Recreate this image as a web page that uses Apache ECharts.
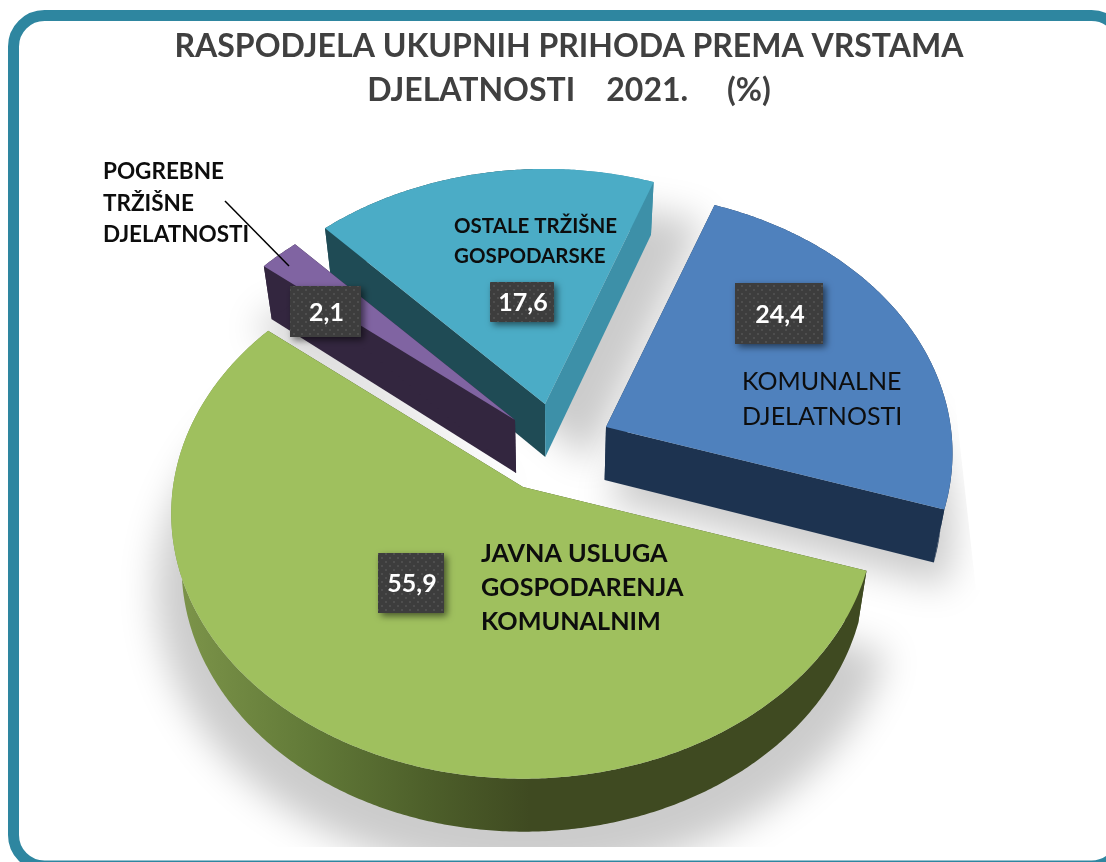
<!DOCTYPE html>
<html>
<head>
<meta charset="utf-8">
<title>Raspodjela ukupnih prihoda</title>
<script src="https://cdn.jsdelivr.net/npm/echarts@6/dist/echarts.min.js"></script>
<style>
html, body { margin: 0; padding: 0; background: #fff; }
#chart { width: 1106px; height: 862px; }
</style>
</head>
<body>
<div id="chart"></div>
<script>
// data, clockwise starting from the blue slice
var categories = ['KOMUNALNE\nDJELATNOSTI', 'JAVNA USLUGA\nGOSPODARENJA\nKOMUNALNIM', 'POGREBNE\nTRŽIŠNE\nDJELATNOSTI', 'OSTALE TRŽIŠNE\nGOSPODARSKE'];
var values = [24.4, 55.9, 2.1, 17.6];
var titleText = 'RASPODJELA UKUPNIH PRIHODA PREMA VRSTAMA\nDJELATNOSTI    2021.     (%)';

// painter's order: back slices first
var drawOrder = [3, 2, 0, 1];

// projection of the tilted pie
var startAngle = -69.84;
var radius = 350;
var tilt = 0.75;
var persp = 0.1;
var depth = 53;
var vanishX = 555;
var shrink = 0.973;

// exploded slice apex and radius factor
var apexX = [606, 523, 515, 545];
var apexY = [427, 487, 420, 404];
var sliceScale = [0.985, 1, 0.985, 0.985];

// shadow offsets and size per slice
var shadowDX = [2, 2, 2, 45];
var shadowDY = [22, 22, 22, 5];
var shadowScale = [1.03, 1.08, 1.08, 1.08];

// colours
var topColors = ['#4f81bd', '#9fc05e', '#8064a2', '#4bacc6'];
var startWall = ['#1d3350', '#3f4a21', '#33263f', '#1f4b55'];
var endWall = ['#1d3350', '#3f4a21', '#33263f', '#3d90a8'];
var rimWall = ['#1d3350', {
	type: 'linear', x: 190, y: 0, x2: 530, y2: 0, global: true,
	colorStops: [
		{ offset: 0, color: '#7a9248' },
		{ offset: 0.35, color: '#627a38' },
		{ offset: 0.7, color: '#4d5f2a' },
		{ offset: 1, color: '#3f4a21' }
	]
}, '#33263f', {
	// left part of the teal rim belongs to the dark wall, right part to the light one
	type: 'linear', x: 300, y: 0, x2: 790, y2: 0, global: true,
	colorStops: [
		{ offset: 0, color: '#1f4b55' },
		{ offset: 0.5, color: '#1f4b55' },
		{ offset: 0.5, color: '#3d90a8' },
		{ offset: 1, color: '#3d90a8' }
	]
}];

// label placement
var boxes = [[735, 283, 88, 61], [378, 553, 66, 60], [290, 286, 71, 51], [490, 282, 64, 40]];
var nameX = [742, 481, 103, 454];
var nameY = [364, 537, 156, 212];
var nameFont = ['25px Lato', 'bold 25.2px Lato', 'bold 22.5px Lato', 'bold 20.5px Lato'];
var nameLine = [35, 34, 31.5, 29.5];

function total() {
	var s = 0;
	for (var i = 0; i < values.length; i++) s += values[i];
	return s;
}

function sliceAngles(idx) {
	var before = 0;
	for (var i = 0; i < idx; i++) before += values[i];
	var a = startAngle + before / total() * 360;
	return [a, a + values[idx] / total() * 360];
}

function project(idx, deg) {
	var t = deg * Math.PI / 180;
	var w = 1 - persp * Math.sin(t);
	var r = radius * sliceScale[idx];
	return [apexX[idx] + r * Math.cos(t) / w, apexY[idx] + r * tilt * Math.sin(t) / w];
}

function lower(p) {
	return [vanishX + (p[0] - vanishX) * shrink, p[1] + depth];
}

function arcPoints(idx) {
	var ang = sliceAngles(idx);
	var n = Math.ceil(ang[1] - ang[0]) * 2;
	var pts = [];
	for (var i = 0; i <= n; i++) {
		pts.push(project(idx, ang[0] + (ang[1] - ang[0]) * i / n));
	}
	return pts;
}

function poly(points, fill) {
	return { type: 'polygon', shape: { points: points }, style: { fill: fill } };
}

// soft shadow under the bottom faces, a bit larger than the slice.
// the shape itself sits off canvas so only its blur shows
function renderShadow(params, api) {
	var idx = api.value(0);
	var k = shadowScale[idx];
	var apex = lower([apexX[idx], apexY[idx]]);
	var pts = arcPoints(idx).map(lower).map(function (p) {
		return [apex[0] + (p[0] - apex[0]) * k, apex[1] + (p[1] - apex[1]) * k];
	});
	return {
		type: 'polygon',
		x: -2000,
		shape: { points: [apex].concat(pts) },
		style: { fill: '#cccccc', shadowColor: '#cccccc', shadowBlur: 36, shadowOffsetX: 2000 + shadowDX[idx], shadowOffsetY: shadowDY[idx] }
	};
}

function renderSlice(params, api) {
	var idx = api.value(0);
	var apex = [apexX[idx], apexY[idx]];
	var arc = arcPoints(idx);
	var first = arc[0];
	var last = arc[arc.length - 1];
	var lowArc = arc.map(lower).reverse();
	return {
		type: 'group',
		children: [
			poly([apex, first, lower(first), lower(apex)], startWall[idx]),
			poly([apex, last, lower(last), lower(apex)], endWall[idx]),
			poly(arc.concat(lowArc), rimWall[idx]),
			poly([apex].concat(arc), topColors[idx])
		]
	};
}

// dotted fill of the value boxes
function dotPattern() {
	var c = document.createElement('canvas');
	c.width = 8;
	c.height = 8;
	var ctx = c.getContext('2d');
	ctx.fillStyle = '#3d3d3d';
	ctx.fillRect(0, 0, 8, 8);
	ctx.fillStyle = '#4e4e4e';
	ctx.fillRect(1, 1, 2, 2);
	ctx.fillRect(5, 5, 2, 2);
	return { image: c, repeat: 'repeat' };
}
var boxFill = dotPattern();

function renderLabel(params, api) {
	var idx = api.value(0);
	var b = boxes[idx];
	var children = [];
	if (idx === 2) {
		children.push({
			type: 'line',
			shape: { x1: 225, y1: 201, x2: 289, y2: 266 },
			style: { stroke: '#000', lineWidth: 1.5 }
		});
	}
	children.push({
		type: 'text',
		style: {
			text: categories[idx], x: nameX[idx], y: nameY[idx], font: nameFont[idx],
			fill: '#0d0d0d', lineHeight: nameLine[idx], align: 'left', verticalAlign: 'top'
		}
	});
	children.push({
		type: 'rect',
		shape: { x: b[0], y: b[1], width: b[2], height: b[3] },
		style: { fill: boxFill, shadowColor: 'rgba(0,0,0,0.55)', shadowBlur: 7, shadowOffsetX: 3, shadowOffsetY: 3 }
	});
	children.push({
		type: 'text',
		style: {
			text: String(api.value(1)).replace('.', ','), x: b[0] + b[2] / 2 + 1, y: b[1] + b[3] / 2 + 1,
			font: 'bold 25px Lato', fill: '#fff', align: 'center', verticalAlign: 'middle'
		}
	});
	return { type: 'group', children: children };
}

var seriesData = drawOrder.map(function (i) {
	return [i, values[i]];
});

var chart = echarts.init(document.getElementById('chart'));
chart.setOption({
	animation: false,
	backgroundColor: '#fff',
	tooltip: { show: false },
	title: {
		text: titleText,
		left: 564,
		top: 20,
		textAlign: 'center',
		textStyle: { fontFamily: 'Lato', fontWeight: 'bold', fontSize: 32, lineHeight: 44, color: '#404040' }
	},
	graphic: [
		// the picture's shadow is cut off at its image bounds
		{ type: 'rect', z: 3, silent: true, shape: { x: 0, y: 847, width: 1106, height: 15 }, style: { fill: '#fff' } },
		{ type: 'polygon', z: 3, silent: true, shape: { points: [[955, 400], [976, 590], [1106, 590], [1106, 400]] }, style: { fill: '#fff' } },
		{ type: 'rect', z: 9, silent: true, shape: { x: 13.5, y: 15.5, width: 1109, height: 850.5, r: 31 }, style: { fill: 'none', stroke: '#2e86a0', lineWidth: 11 } }
	],
	series: [
		{ type: 'custom', coordinateSystem: 'none', z: 2, silent: true, data: seriesData, renderItem: renderShadow },
		{ type: 'custom', coordinateSystem: 'none', z: 4, silent: true, data: seriesData, renderItem: renderSlice },
		{ type: 'custom', coordinateSystem: 'none', z: 5, silent: true, data: seriesData, renderItem: renderLabel }
	]
});
</script>
</body>
</html>
